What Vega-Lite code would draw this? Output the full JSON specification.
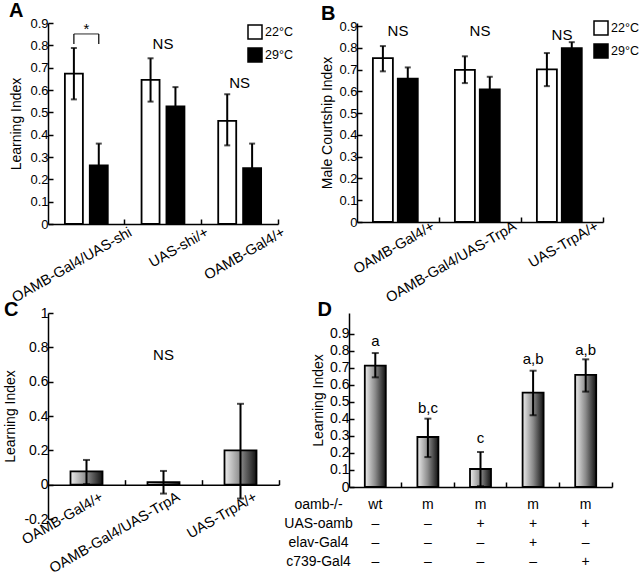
{
  "$schema": "https://vega.github.io/schema/vega-lite/v6.json",
  "padding": {"left": 3, "top": 1, "right": 0, "bottom": 0},
  "background": "white",
  "config": {
    "font": "Liberation Sans",
    "view": {"stroke": null},
    "axis": {
      "labelFont": "Liberation Sans", "labelFontSize": 13, "labelColor": "black", "labelOverlap": false,
      "titleFont": "Liberation Sans", "titleFontSize": 14, "titleFontWeight": "normal", "titleColor": "black",
      "domainColor": "black", "domainWidth": 1.5, "tickColor": "black", "tickWidth": 1.5, "grid": false
    },
    "title": {"fontSize": 20, "fontWeight": "bold", "anchor": "start", "frame": "bounds", "color": "black", "font": "Liberation Sans"},
    "legend": {"labelFont": "Liberation Sans", "labelFontSize": 12.5, "labelColor": "black", "symbolType": "square", "symbolSize": 196, "symbolStrokeColor": "black", "symbolStrokeWidth": 1.5, "padding": 0, "rowPadding": 3, "labelOffset": 2}
  },
  "datasets": {
    "A": [
      {"g": "OAMB-Gal4/UAS-shi", "t": "22°C", "v": 0.673, "lo": 0.558, "hi": 0.788},
      {"g": "OAMB-Gal4/UAS-shi", "t": "29°C", "v": 0.262, "lo": 0.16, "hi": 0.36},
      {"g": "UAS-shi/+", "t": "22°C", "v": 0.645, "lo": 0.548, "hi": 0.742},
      {"g": "UAS-shi/+", "t": "29°C", "v": 0.527, "lo": 0.44, "hi": 0.613},
      {"g": "OAMB-Gal4/+", "t": "22°C", "v": 0.462, "lo": 0.352, "hi": 0.581},
      {"g": "OAMB-Gal4/+", "t": "29°C", "v": 0.25, "lo": 0.14, "hi": 0.36}
    ],
    "B": [
      {"g": "OAMB-Gal4/+", "t": "22°C", "v": 0.753, "lo": 0.692, "hi": 0.808},
      {"g": "OAMB-Gal4/+", "t": "29°C", "v": 0.658, "lo": 0.6, "hi": 0.71},
      {"g": "OAMB-Gal4/UAS-TrpA", "t": "22°C", "v": 0.699, "lo": 0.638, "hi": 0.761},
      {"g": "OAMB-Gal4/UAS-TrpA", "t": "29°C", "v": 0.609, "lo": 0.55, "hi": 0.667},
      {"g": "UAS-TrpA/+", "t": "22°C", "v": 0.701, "lo": 0.624, "hi": 0.776},
      {"g": "UAS-TrpA/+", "t": "29°C", "v": 0.799, "lo": 0.77, "hi": 0.826}
    ],
    "C": [
      {"g": "OAMB-Gal4/+", "v": 0.078, "lo": 0.003, "hi": 0.144},
      {"g": "OAMB-Gal4/UAS-TrpA", "v": 0.015, "lo": -0.052, "hi": 0.08},
      {"g": "UAS-TrpA/+", "v": 0.2, "lo": -0.081, "hi": 0.471}
    ],
    "D": [
      {"g": "1", "v": 0.714, "lo": 0.645, "hi": 0.788, "sig": "a", "sy": 0.861},
      {"g": "2", "v": 0.294, "lo": 0.176, "hi": 0.402, "sig": "b,c", "sy": 0.465},
      {"g": "3", "v": 0.106, "lo": 0.005, "hi": 0.206, "sig": "c", "sy": 0.288},
      {"g": "4", "v": 0.555, "lo": 0.422, "hi": 0.684, "sig": "a,b", "sy": 0.755},
      {"g": "5", "v": 0.659, "lo": 0.561, "hi": 0.751, "sig": "a,b", "sy": 0.808}
    ],
    "Dtab": [
      {"g": "1", "r": "oamb-/-", "s": "wt"}, {"g": "2", "r": "oamb-/-", "s": "m"}, {"g": "3", "r": "oamb-/-", "s": "m"}, {"g": "4", "r": "oamb-/-", "s": "m"}, {"g": "5", "r": "oamb-/-", "s": "m"},
      {"g": "1", "r": "UAS-oamb", "s": "–"}, {"g": "2", "r": "UAS-oamb", "s": "–"}, {"g": "3", "r": "UAS-oamb", "s": "+"}, {"g": "4", "r": "UAS-oamb", "s": "+"}, {"g": "5", "r": "UAS-oamb", "s": "+"},
      {"g": "1", "r": "elav-Gal4", "s": "–"}, {"g": "2", "r": "elav-Gal4", "s": "–"}, {"g": "3", "r": "elav-Gal4", "s": "–"}, {"g": "4", "r": "elav-Gal4", "s": "+"}, {"g": "5", "r": "elav-Gal4", "s": "–"},
      {"g": "1", "r": "c739-Gal4", "s": "–"}, {"g": "2", "r": "c739-Gal4", "s": "–"}, {"g": "3", "r": "c739-Gal4", "s": "–"}, {"g": "4", "r": "c739-Gal4", "s": "–"}, {"g": "5", "r": "c739-Gal4", "s": "+"}
    ]
  },
  "spacing": -6,
  "vconcat": [
    {
      "bounds": "flush",
      "spacing": 79,
      "resolve": {"scale": {"fill": "independent"}, "legend": {"fill": "independent"}},
      "hconcat": [
        {
          "width": 230, "height": 201,
          "title": {"text": "A", "offset": -4},
          "data": {"name": "A"},
          "encoding": {
            "x": {"field": "g", "type": "nominal", "sort": null, "title": null,
                  "scale": {"paddingInner": 0, "paddingOuter": 0},
                  "axis": {"bandPosition": 1, "labelOffset": 41, "labelAngle": -30, "labelAlign": "right", "labelBaseline": "top", "labelPadding": 6, "tickSize": -5, "labelFontSize": 14.5}},
            "xOffset": {"field": "t", "type": "nominal", "scale": {"paddingInner": 0, "paddingOuter": 0.54}}
          },
          "layer": [
            {
              "mark": {"type": "bar", "stroke": "black", "strokeWidth": 1.8, "width": 18},
              "encoding": {
                "y": {"field": "v", "type": "quantitative", "title": "Learning Index",
                      "scale": {"domain": [0, 0.9], "nice": false},
                      "axis": {"values": [0, 0.1, 0.2, 0.3, 0.4, 0.5, 0.6, 0.7, 0.8, 0.9], "tickCount": 20, "format": "~g", "labelOverlap": false, "tickSize": -5, "labelPadding": 5, "titlePadding": 6}},
                "fill": {"field": "t", "type": "nominal", "scale": {"domain": ["22°C", "29°C"], "range": ["white", "black"]},
                         "legend": {"title": null, "orient": "none", "legendX": 199, "legendY": 1}}
              }
            },
            {"mark": {"type": "rule", "strokeWidth": 2, "color": "black"}, "encoding": {"y": {"field": "lo", "type": "quantitative"}, "y2": {"field": "hi"}}},
            {"mark": {"type": "tick", "thickness": 2, "size": 6, "color": "black", "orient": "horizontal"}, "encoding": {"y": {"field": "hi", "type": "quantitative"}}},
            {"mark": {"type": "tick", "thickness": 2, "size": 6, "color": "black", "orient": "horizontal"}, "encoding": {"y": {"field": "lo", "type": "quantitative"}}},
            {
              "data": {"values": [{"g": "UAS-shi/+", "y": 0.806, "s": "NS"}, {"g": "OAMB-Gal4/+", "y": 0.631, "s": "NS"}, {"g": "OAMB-Gal4/UAS-shi", "y": 0.875, "s": "*"}]},
              "mark": {"type": "text", "fontSize": 15, "baseline": "middle", "color": "black"},
              "encoding": {"x": {"field": "g", "type": "nominal", "sort": null}, "xOffset": null, "y": {"field": "y", "type": "quantitative"}, "text": {"field": "s"}}
            },
            {
              "data": {"values": [{"g": "OAMB-Gal4/UAS-shi", "t": "22°C", "a": 0.806, "b": 0.851}, {"g": "OAMB-Gal4/UAS-shi", "t": "29°C", "a": 0.806, "b": 0.851}]},
              "mark": {"type": "rule", "strokeWidth": 1.2, "color": "black"},
              "encoding": {"y": {"field": "a", "type": "quantitative"}, "y2": {"field": "b"}}
            },
            {
              "data": {"values": [{"g": "OAMB-Gal4/UAS-shi", "b": 0.851}]},
              "mark": {"type": "tick", "thickness": 1.2, "size": 25, "color": "black", "orient": "horizontal"},
              "encoding": {"x": {"field": "g", "type": "nominal", "sort": null}, "xOffset": null, "y": {"field": "b", "type": "quantitative"}}
            }
          ]
        },
        {
          "width": 246, "height": 199,
          "title": {"text": "B", "offset": -4},
          "data": {"name": "B"},
          "encoding": {
            "x": {"field": "g", "type": "nominal", "sort": null, "title": null,
                  "scale": {"paddingInner": 0, "paddingOuter": 0},
                  "axis": {"bandPosition": 1, "labelOffset": 32, "labelAngle": -30, "labelAlign": "right", "labelBaseline": "top", "labelPadding": 2, "tickSize": -5, "labelFontSize": 14.5}},
            "xOffset": {"field": "t", "type": "nominal", "scale": {"paddingInner": 0, "paddingOuter": 0.52}}
          },
          "layer": [
            {
              "mark": {"type": "bar", "stroke": "black", "strokeWidth": 1.8, "width": 20},
              "encoding": {
                "y": {"field": "v", "type": "quantitative", "title": "Male Courtship Index",
                      "scale": {"domain": [0, 0.914], "nice": false},
                      "axis": {"values": [0, 0.1, 0.2, 0.3, 0.4, 0.5, 0.6, 0.7, 0.8, 0.9], "tickCount": 20, "format": "~g", "labelOverlap": false, "tickSize": -5, "labelPadding": 5, "titlePadding": 4}},
                "fill": {"field": "t", "type": "nominal", "scale": {"domain": ["22°C", "29°C"], "range": ["white", "black"]},
                         "legend": {"title": null, "orient": "none", "legendX": 236, "legendY": -3}}
              }
            },
            {"mark": {"type": "rule", "strokeWidth": 2, "color": "black"}, "encoding": {"y": {"field": "lo", "type": "quantitative"}, "y2": {"field": "hi"}}},
            {"mark": {"type": "tick", "thickness": 2, "size": 6, "color": "black", "orient": "horizontal"}, "encoding": {"y": {"field": "hi", "type": "quantitative"}}},
            {"mark": {"type": "tick", "thickness": 2, "size": 6, "color": "black", "orient": "horizontal"}, "encoding": {"y": {"field": "lo", "type": "quantitative"}}},
            {
              "data": {"values": [{"g": "OAMB-Gal4/+", "y": 0.877, "s": "NS"}, {"g": "OAMB-Gal4/UAS-TrpA", "y": 0.877, "s": "NS"}, {"g": "UAS-TrpA/+", "y": 0.86, "s": "NS"}]},
              "mark": {"type": "text", "fontSize": 15, "baseline": "middle", "color": "black"},
              "encoding": {"x": {"field": "g", "type": "nominal", "sort": null}, "xOffset": null, "y": {"field": "y", "type": "quantitative"}, "text": {"field": "s"}}
            }
          ]
        }
      ]
    },
    {
      "bounds": "flush",
      "spacing": 70,
      "hconcat": [
        {
          "width": 231, "height": 206,
          "title": {"text": "C", "offset": -14},
          "data": {"name": "C"},
          "encoding": {
            "x": {"field": "g", "type": "nominal", "sort": null, "title": null,
                  "scale": {"paddingInner": 0, "paddingOuter": 0},
                  "axis": {"bandPosition": 1, "labelOffset": 12, "offset": -34.33, "labelAngle": -30, "labelAlign": "right", "labelBaseline": "top", "labelPadding": 10, "tickSize": -5, "labelFontSize": 14.5}}
          },
          "layer": [
            {
              "mark": {"type": "bar", "stroke": "black", "strokeWidth": 1.8, "width": 32,
                       "fill": {"gradient": "linear", "x1": 0, "x2": 1, "y1": 0, "y2": 0, "stops": [{"offset": 0, "color": "#ececec"}, {"offset": 0.5, "color": "#8a8a8a"}, {"offset": 1, "color": "#111111"}]}},
              "encoding": {
                "y": {"field": "v", "type": "quantitative", "title": "Learning Index",
                      "scale": {"domain": [-0.2, 1], "nice": false},
                      "axis": {"values": [-0.2, 0, 0.2, 0.4, 0.6, 0.8, 1], "tickCount": 20, "labelOverlap": false, "labelExpr": "replace(format(datum.value, '~g'), '\u2212', '-')", "tickSize": -5, "labelPadding": 5, "titlePadding": 6, "labelFontSize": 14}}
              }
            },
            {"mark": {"type": "rule", "strokeWidth": 2, "color": "black"}, "encoding": {"y": {"field": "lo", "type": "quantitative"}, "y2": {"field": "hi"}}},
            {"mark": {"type": "tick", "thickness": 2, "size": 7, "color": "black", "orient": "horizontal"}, "encoding": {"y": {"field": "hi", "type": "quantitative"}}},
            {"mark": {"type": "tick", "thickness": 2, "size": 7, "color": "black", "orient": "horizontal"}, "encoding": {"y": {"field": "lo", "type": "quantitative"}}},
            {
              "data": {"values": [{"g": "OAMB-Gal4/UAS-TrpA", "y": 0.756, "s": "NS"}]},
              "mark": {"type": "text", "fontSize": 15, "baseline": "middle", "color": "black"},
              "encoding": {"y": {"field": "y", "type": "quantitative"}, "text": {"field": "s"}}
            }
          ]
        },
        {
          "bounds": "flush",
          "spacing": 8,
          "vconcat": [
            {
              "width": 263, "height": 174,
              "title": {"text": "D", "offset": -6.5, "dx": 6},
              "data": {"name": "D"},
              "encoding": {
                "x": {"field": "g", "type": "nominal", "sort": null, "title": null,
                      "scale": {"paddingInner": 0, "paddingOuter": 0},
                      "axis": {"bandPosition": 1, "labels": false, "tickSize": -5}}
              },
              "layer": [
                {
                  "mark": {"type": "bar", "stroke": "black", "strokeWidth": 1.8, "width": 21,
                           "fill": {"gradient": "linear", "x1": 0, "x2": 1, "y1": 0, "y2": 0, "stops": [{"offset": 0, "color": "#ececec"}, {"offset": 0.5, "color": "#8a8a8a"}, {"offset": 1, "color": "#111111"}]}},
                  "encoding": {
                    "y": {"field": "v", "type": "quantitative", "title": "Learning Index",
                          "scale": {"domain": [0, 1.0235], "nice": false},
                          "axis": {"values": [0, 0.1, 0.2, 0.3, 0.4, 0.5, 0.6, 0.7, 0.8, 0.9], "tickCount": 20, "format": "~g", "labelOverlap": false, "tickSize": -5, "labelPadding": 5, "titlePadding": 4, "labelFontSize": 14}}
                  }
                },
                {"mark": {"type": "rule", "strokeWidth": 2, "color": "black"}, "encoding": {"y": {"field": "lo", "type": "quantitative"}, "y2": {"field": "hi"}}},
                {"mark": {"type": "tick", "thickness": 2, "size": 7, "color": "black", "orient": "horizontal"}, "encoding": {"y": {"field": "hi", "type": "quantitative"}}},
                {"mark": {"type": "tick", "thickness": 2, "size": 7, "color": "black", "orient": "horizontal"}, "encoding": {"y": {"field": "lo", "type": "quantitative"}}},
                {
                  "mark": {"type": "text", "fontSize": 15, "baseline": "middle", "color": "black"},
                  "encoding": {"y": {"field": "sy", "type": "quantitative"}, "text": {"field": "sig"}}
                }
              ]
            },
            {
              "width": 263, "height": 76,
              "data": {"name": "Dtab"},
              "mark": {"type": "text", "fontSize": 14, "color": "black", "baseline": "middle"},
              "encoding": {
                "x": {"field": "g", "type": "nominal", "sort": null, "axis": null, "scale": {"paddingInner": 0, "paddingOuter": 0}},
                "y": {"field": "r", "type": "nominal", "sort": ["oamb-/-", "UAS-oamb", "elav-Gal4", "c739-Gal4"], "title": null,
                      "axis": {"domain": false, "ticks": false, "labelAlign": "center", "labelPadding": 31, "labelFontSize": 14}},
                "text": {"field": "s"}
              }
            }
          ]
        }
      ]
    }
  ]
}
